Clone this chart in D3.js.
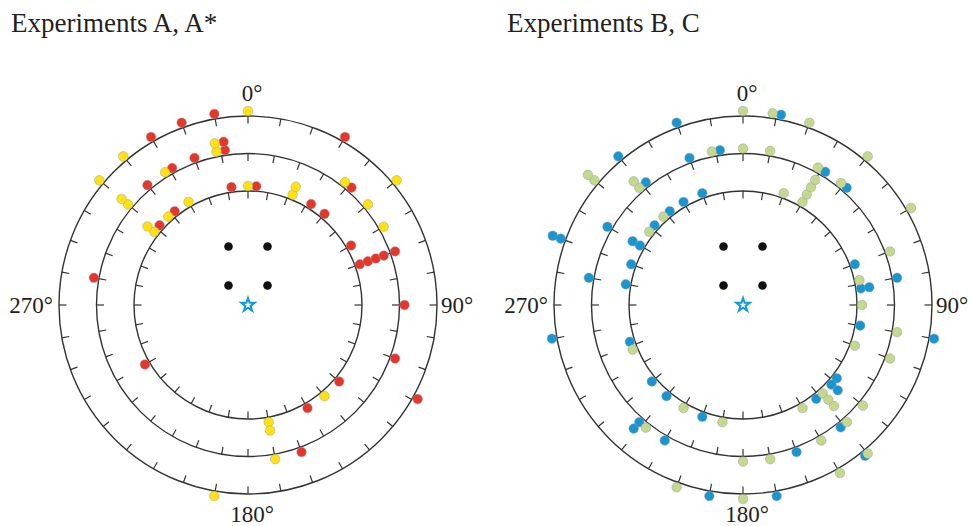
<!DOCTYPE html>
<html>
<head>
<meta charset="utf-8">
<script src="https://cdn.jsdelivr.net/npm/d3@7"></script>
<style>
  body { margin: 0; background: #fff; }
  svg text { font-family: "Liberation Serif", "Times New Roman", serif; fill: #231f20; }
</style>
</head>
<body>
<svg id="chart" width="972" height="526"></svg>
<script>
// each dot: [ring (1 inner, 2 middle, 3 outer), angle in degrees clockwise from 0°, stack level]
const expA = [
  [3, 350, 0], [3, 340, 0], [3, 330, 0], [3, 30, 0], [3, 119, 0],
  [2, 351.5, 0], [2, 351.5, 1], [2, 340, 0], [2, 331, 0], [2, 320, 0], [2, 280, 0],
  [2, 41.4, 0], [2, 70, 0], [2, 90, 0], [2, 110, 0], [2, 160, 0],
  [1, 352, 0], [1, 4, 0], [1, 32, 0], [1, 40, 0], [1, 322, 0], [1, 312, 0], [1, 60, 0],
  [1, 70, 0], [1, 70, 1], [1, 70, 2], [1, 70, 3], [1, 130, 0], [1, 150, 0], [1, 240, 0]
];
const expAstar = [
  [3, 0, 0], [3, 320, 0], [3, 310, 0], [3, 50, 0], [3, 190, 0],
  [2, 348.4, 0], [2, 348.4, 1], [2, 328, 0], [2, 310, 0], [2, 310, 1],
  [2, 38.3, 0], [2, 50, 0], [2, 60, 0], [2, 170, 0],
  [1, 0, 0], [1, 330, 0], [1, 318, 0], [1, 308, 0], [1, 308, 1],
  [1, 22, 0], [1, 22, 1], [1, 140, 0], [1, 170, 0], [1, 170, 1]
];
const expB = [
  [3, 340, 0], [3, 320, 0], [3, 290, 0], [3, 290, 1], [3, 11.3, 0], [3, 260, 0],
  [3, 100, 0], [3, 190, 0], [3, 170, 0], [3, 141, 0],
  [2, 351.5, 0], [2, 340, 0], [2, 321.6, 0], [2, 300, 0], [2, 280, 0], [2, 31.7, 0],
  [2, 41.5, 0], [2, 80, 0], [2, 221.5, 0], [2, 221.5, 1], [2, 210, 0], [2, 160, 0], [2, 141.4, 0],
  [1, 340, 0], [1, 330, 0], [1, 322, 0], [1, 312, 0], [1, 300, 0], [1, 300, 1], [1, 290, 0],
  [1, 280, 0], [1, 252, 0], [1, 230, 0], [1, 220, 0], [1, 200, 0], [1, 142, 0], [1, 70, 0],
  [1, 82, 0], [1, 82, 1], [1, 100, 0], [1, 128, 0], [1, 132, 0], [1, 132, 1]
];
const expC = [
  [3, 0, 0], [3, 8.8, 0], [3, 20, 0], [3, 40, 0], [3, 60, 0], [3, 310, 0], [3, 310, 1],
  [3, 200, 0], [3, 180, 0], [3, 150, 0], [3, 140, 0],
  [2, 348.5, 0], [2, 318.5, 0], [2, 318.5, 1], [2, 0, 0], [2, 10, 0], [2, 28.6, 0], [2, 38.8, 0],
  [2, 70, 0], [2, 100, 0], [2, 110, 0], [2, 218.4, 0], [2, 180, 0], [2, 170, 0], [2, 150, 0],
  [2, 138.4, 0], [2, 130, 0],
  [1, 318, 0], [1, 308, 0], [1, 30, 0], [1, 30, 1], [1, 30, 2], [1, 30, 3], [1, 20, 0],
  [1, 78, 0], [1, 90, 0], [1, 110, 0], [1, 248, 0], [1, 210, 0], [1, 190, 0], [1, 150, 0],
  [1, 138, 0], [1, 138, 1], [1, 138, 2]
];
// black reference dots and the star, in grid units around the centre
const blackDots = [[-1, 3], [1, 3], [-1, 1], [1, 1]];
const starPos = [0, 0];

const rings = [1, 2, 3];
const tickAngles = d3.range(0, 360, 10);
const axisLabels = [
  { angle: 0, text: "0°" }, { angle: 90, text: "90°" },
  { angle: 180, text: "180°" }, { angle: 270, text: "270°" }
];

const panels = [
  { title: "Experiments A, A*", cx: 248, tx: 11, series: [
    { data: expA, fill: "#e6352b" }, { data: expAstar, fill: "#ffe20f" } ] },
  { title: "Experiments B, C", cx: 743, tx: 507, series: [
    { data: expB, fill: "#1796d2" }, { data: expC, fill: "#c4d88e" } ] }
];

const svg = d3.select("#chart");
const cy = 305;
const rScale = d3.scaleLinear().domain([1, 3]).range([114, 189]);
const aScale = d3.scaleLinear().domain([0, 360]).range([0, 2 * Math.PI]);
const gridScale = d3.scaleLinear().domain([0, 1]).range([0, 19.5]);
const dotR = 4.8, baseOff = 5, levelGap = 8.5;

panels.forEach(p => {
  svg.append("text")
    .attr("x", p.tx).attr("y", 32)
    .attr("font-size", 27)
    .text(p.title);

  const g = svg.append("g").attr("transform", `translate(${p.cx},${cy})`);

  g.selectAll("circle.ring")
    .data(rings)
    .enter().append("circle")
    .attr("class", "ring")
    .attr("r", d => rScale(d))
    .attr("fill", "none")
    .attr("stroke", "#333")
    .attr("stroke-width", 1.4);

  const ticks = [];
  rings.forEach(r => tickAngles.forEach(a => ticks.push({ r, a })));
  g.selectAll("line.tick")
    .data(ticks)
    .enter().append("line")
    .attr("class", "tick")
    .each(function (d) {
      const p0 = d3.pointRadial(aScale(d.a), rScale(d.r));
      const p1 = d3.pointRadial(aScale(d.a), rScale(d.r) - 7.5);
      d3.select(this).attr("x1", p0[0]).attr("y1", p0[1]).attr("x2", p1[0]).attr("y2", p1[1]);
    })
    .attr("stroke", "#333")
    .attr("stroke-width", 1.2);

  const outer = rScale(3);
  g.selectAll("text.axis")
    .data(axisLabels)
    .enter().append("text")
    .attr("class", "axis")
    .attr("font-size", 23)
    .attr("x", d => d.angle === 90 ? outer + 4 : d.angle === 270 ? -outer - 6 : 4)
    .attr("y", d => d.angle === 0 ? -outer - 15 : d.angle === 180 ? outer + 28 : 8)
    .attr("text-anchor", d => d.angle === 90 ? "start" : d.angle === 270 ? "end" : "middle")
    .text(d => d.text);

  g.selectAll("circle.ref")
    .data(blackDots)
    .enter().append("circle")
    .attr("class", "ref")
    .attr("cx", d => gridScale(d[0]))
    .attr("cy", d => -gridScale(d[1]))
    .attr("r", 4.3)
    .attr("fill", "#111");

  g.append("path")
    .attr("d", d3.symbol(d3.symbolStar, 55)())
    .attr("transform", `translate(${gridScale(starPos[0])},${-gridScale(starPos[1])})`)
    .attr("fill", "#fff")
    .attr("stroke", "#0f9ad8")
    .attr("stroke-width", 2);

  p.series.forEach(s => {
    g.selectAll(null)
      .data(s.data)
      .enter().append("circle")
      .attr("cx", d => d3.pointRadial(aScale(d[1]), rScale(d[0]) + baseOff + d[2] * levelGap)[0])
      .attr("cy", d => d3.pointRadial(aScale(d[1]), rScale(d[0]) + baseOff + d[2] * levelGap)[1])
      .attr("r", dotR)
      .attr("fill", s.fill)
      .attr("stroke", "#9a9a9a")
      .attr("stroke-opacity", 0.6)
      .attr("stroke-width", 0.8);
  });
});
</script>
</body>
</html>
